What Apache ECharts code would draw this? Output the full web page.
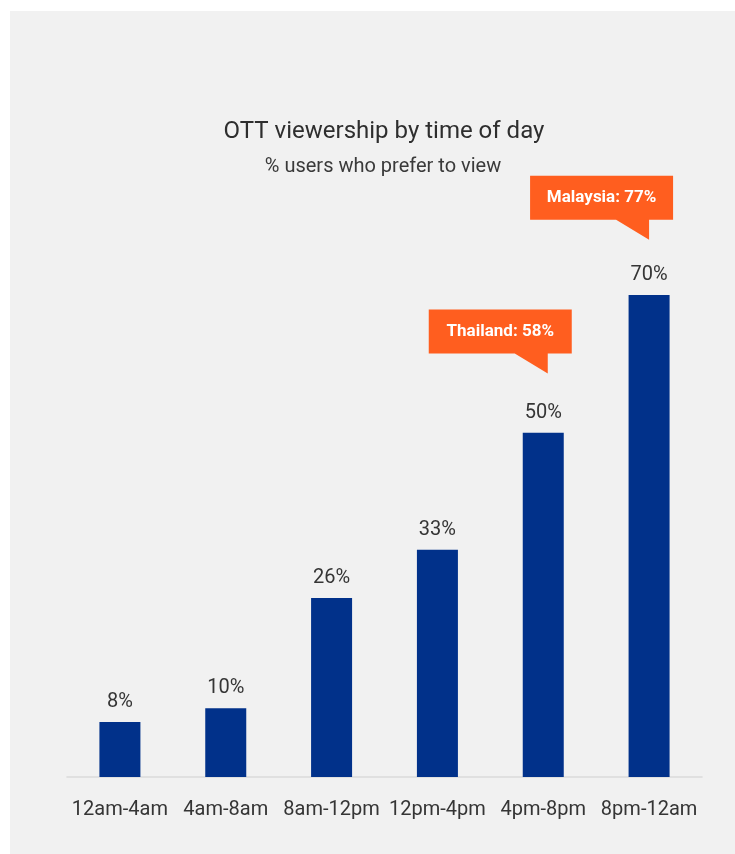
<!DOCTYPE html>
<html>
<head>
<meta charset="utf-8">
<script src="https://cdn.jsdelivr.net/npm/echarts@6/dist/echarts.min.js"></script>
<style>
html,body{margin:0;padding:0;background:#ffffff;}
#chart{width:735px;height:854px;}
</style>
</head>
<body>
<div id="chart"></div>
<script>
const categories = ['12am-4am', '4am-8am', '8am-12pm', '12pm-4pm', '4pm-8pm', '8pm-12am'];
const values = [8, 10, 26, 33, 50, 70];
const calloutCountries = ['Thailand', 'Malaysia'];
const calloutCategories = ['4pm-8pm', '8pm-12am'];
const calloutValues = [58, 77];
const titleText = 'OTT viewership by time of day';
const subtitleText = '% users who prefer to view';

const FONT = 'Roboto';
const calloutPath = 'path://M0 0 L143 0 L143 44 L119 44 L119 64 L86 44 L0 44 Z';
const calloutShift = [[-43, -36], [-47.5, -39]];

const chart = echarts.init(document.getElementById('chart'), null, {renderer: 'canvas'});
chart.setOption({
  animation: false,
  backgroundColor: '#ffffff',
  graphic: [{
    type: 'rect', z: -10, silent: true,
    shape: {x: 10, y: 11, width: 725, height: 843},
    style: {fill: '#f1f1f1'}
  }],
  title: [
    {text: titleText, left: 384, top: 120, textAlign: 'center', padding: 0,
     textStyle: {fontFamily: FONT, fontSize: 24, fontWeight: 'normal', color: '#2e2e2e'}},
    {text: subtitleText, left: 383, top: 157, textAlign: 'center', padding: 0,
     textStyle: {fontFamily: FONT, fontSize: 20, fontWeight: 'normal', color: '#3a3a3a'}}
  ],
  grid: {left: 67, right: 33, top: 226, bottom: 77, containLabel: false},
  xAxis: {
    type: 'category', data: categories,
    axisLine: {show: true, lineStyle: {color: '#dadada', width: 1.5}},
    axisTick: {show: false},
    axisLabel: {fontFamily: FONT, fontSize: 20, color: '#353535', margin: 23, interval: 0}
  },
  yAxis: {
    type: 'value', min: 0, max: 80, show: false,
    splitLine: {show: false}
  },
  series: [{
    type: 'bar', data: values, barWidth: 41,
    itemStyle: {color: '#01318a'},
    label: {show: true, position: 'top', distance: 10, formatter: '{c}%',
      fontFamily: FONT, fontSize: 20, color: '#353535'},
    markPoint: {
      symbol: calloutPath,
      symbolSize: [143, 64],
      symbolKeepAspect: false,
      itemStyle: {color: '#ff5e1f'},
      label: {show: true, position: 'inside', offset: [0, -10],
        fontFamily: FONT, fontSize: 17, fontWeight: 'bold', color: '#ffffff',
        formatter: p => p.name + ': ' + p.value + '%'},
      data: calloutCountries.map((n, i) => ({
        name: n, value: calloutValues[i], coord: [calloutCategories[i], calloutValues[i]],
        symbolOffset: calloutShift[i]
      }))
    }
  }]
});
</script>
</body>
</html>
